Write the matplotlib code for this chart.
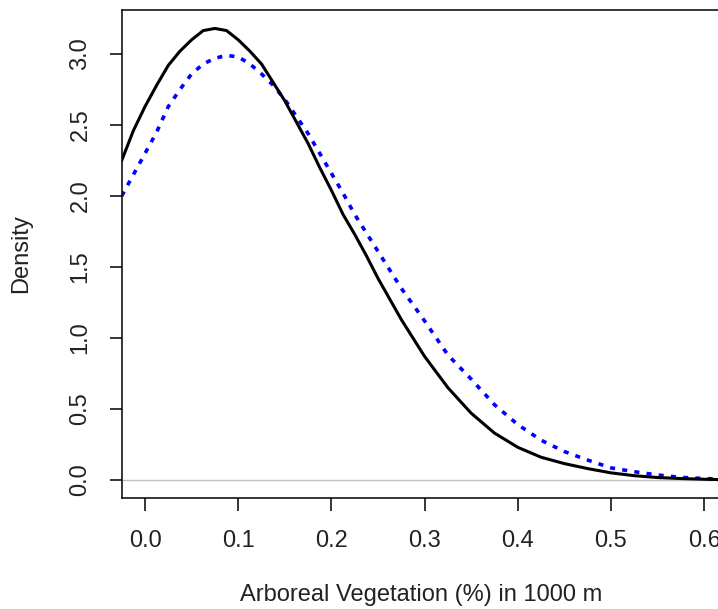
import matplotlib.pyplot as plt

plt.rcParams["font.family"] = ["Liberation Sans", "DejaVu Sans"]

# density curves
x = [-0.025, -0.0125, 0.0, 0.0125, 0.025, 0.0375, 0.05, 0.0625, 0.075, 0.0875,
     0.1, 0.1125, 0.125, 0.1375, 0.15, 0.1625, 0.175, 0.1875, 0.2, 0.2125,
     0.225, 0.2375, 0.25, 0.275, 0.3, 0.325, 0.35, 0.375, 0.4, 0.425,
     0.45, 0.475, 0.5, 0.525, 0.55, 0.575, 0.6, 0.62]
dens_black = [2.25, 2.46, 2.63, 2.78, 2.92, 3.02, 3.10, 3.165, 3.18, 3.165,
              3.10, 3.02, 2.93, 2.80, 2.67, 2.52, 2.37, 2.20, 2.04, 1.87,
              1.73, 1.58, 1.42, 1.13, 0.87, 0.65, 0.47, 0.33, 0.23, 0.16,
              0.115, 0.08, 0.05, 0.03, 0.017, 0.01, 0.005, 0.002]
dens_blue = [2.0, 2.15, 2.30, 2.45, 2.63, 2.75, 2.86, 2.93, 2.97, 2.99,
             2.98, 2.93, 2.86, 2.78, 2.68, 2.56, 2.44, 2.30, 2.16, 2.02,
             1.87, 1.74, 1.61, 1.35, 1.12, 0.88, 0.71, 0.53, 0.39, 0.28,
             0.2, 0.14, 0.085, 0.058, 0.035, 0.018, 0.01, 0.005]
xticks = [0.0, 0.1, 0.2, 0.3, 0.4, 0.5, 0.6]
yticks = [0.0, 0.5, 1.0, 1.5, 2.0, 2.5, 3.0]

fig = plt.figure(figsize=(7.18, 6.09), dpi=100)
ax = fig.add_axes([0.1699, 0.1823, 0.8329, 0.8013])

ax.axhline(0, color="#c0c0c0", lw=1.0, zorder=1)
ax.plot(x, dens_black, color="black", lw=2.2, zorder=3)
ax.plot(x, dens_blue, color="blue", lw=2.6, linestyle=(0, (1.4, 2.0)), zorder=2)

ax.set_xlim(-0.0247, 0.617)
ax.set_ylim(-0.127, 3.31)
ax.set_xticks(xticks)
ax.set_xticklabels([f"{v:.1f}" for v in xticks])
ax.set_yticks(yticks)
ax.set_yticklabels([f"{v:.1f}" for v in yticks], rotation=90, va="center")

ax.tick_params(axis="both", direction="out", length=9, width=1.1,
               labelsize=17, colors="black", labelcolor="#222222")
ax.tick_params(axis="x", pad=14)
ax.tick_params(axis="y", pad=13)
for s in ax.spines.values():
    s.set_linewidth(1.1)

ax.set_xlabel("Arboreal Vegetation (%) in 1000 m", fontsize=17, color="#222222", labelpad=23)
ax.set_ylabel("Density", fontsize=17, color="#222222", labelpad=27)

fig.savefig("out.png", dpi=100)
